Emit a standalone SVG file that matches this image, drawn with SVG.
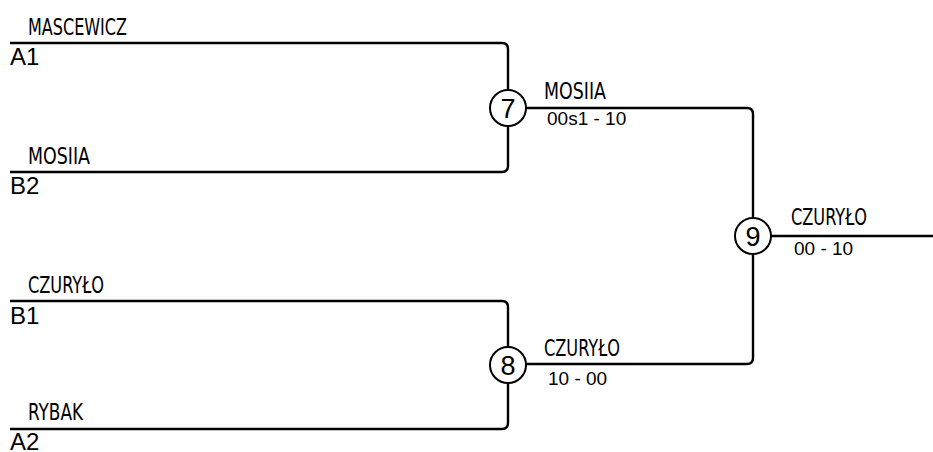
<svg xmlns="http://www.w3.org/2000/svg" width="933" height="452" viewBox="0 0 933 452">
<style>
.ln{fill:none;stroke:#000;stroke-width:2.4}
.nd{fill:#fff;stroke:#000;stroke-width:2}
.nm{font-family:"DejaVu Sans Condensed","DejaVu Sans",sans-serif;font-stretch:condensed;font-size:23px;fill:#000}
.sl{font-family:"Liberation Sans",Arial,sans-serif;font-size:24px;fill:#000}
.sc{font-family:"Liberation Sans",Arial,sans-serif;font-size:19px;fill:#000}
.num{font-family:"Liberation Sans",Arial,sans-serif;font-size:27px;fill:#000;text-anchor:middle}
</style>
<rect width="933" height="452" fill="#fff"/>
<g id="connectors">
<path class="ln" d="M10,43 H502 Q508,43 508,49 V166 Q508,172 502,172 H10"/>
<path class="ln" d="M10,301 H502 Q508,301 508,307 V423 Q508,429 502,429 H10"/>
<path class="ln" d="M508,108 H747 Q753,108 753,114 V358 Q753,364 747,364 H508"/>
<path class="ln" d="M753,236 H933"/>
</g>
<g id="slot-a1"><text class="nm" x="28" y="35" textLength="99" lengthAdjust="spacingAndGlyphs">MASCEWICZ</text><text class="sl" x="10" y="65">A1</text></g>
<g id="slot-b2"><text class="nm" x="28" y="164" textLength="62" lengthAdjust="spacingAndGlyphs">MOSIIA</text><text class="sl" x="10" y="194">B2</text></g>
<g id="slot-b1"><text class="nm" x="28" y="293" textLength="76" lengthAdjust="spacingAndGlyphs">CZURYŁO</text><text class="sl" x="10" y="324">B1</text></g>
<g id="slot-a2"><text class="nm" x="28" y="420" textLength="55" lengthAdjust="spacingAndGlyphs">RYBAK</text><text class="sl" x="10" y="450">A2</text></g>
<g id="node-7"><circle class="nd" cx="508" cy="108" r="18"/><text class="num" x="508" y="118">7</text><text class="nm" x="544" y="99" textLength="62" lengthAdjust="spacingAndGlyphs">MOSIIA</text><text class="sc" x="547" y="125">00s1 - 10</text></g>
<g id="node-8"><circle class="nd" cx="508" cy="365" r="18"/><text class="num" x="508" y="375">8</text><text class="nm" x="544" y="356" textLength="76" lengthAdjust="spacingAndGlyphs">CZURYŁO</text><text class="sc" x="548" y="385">10 - 00</text></g>
<g id="node-9"><circle class="nd" cx="753" cy="236" r="18"/><text class="num" x="753" y="246">9</text><text class="nm" x="791" y="225" textLength="76" lengthAdjust="spacingAndGlyphs">CZURYŁO</text><text class="sc" x="794" y="255">00 - 10</text></g>
</svg>
